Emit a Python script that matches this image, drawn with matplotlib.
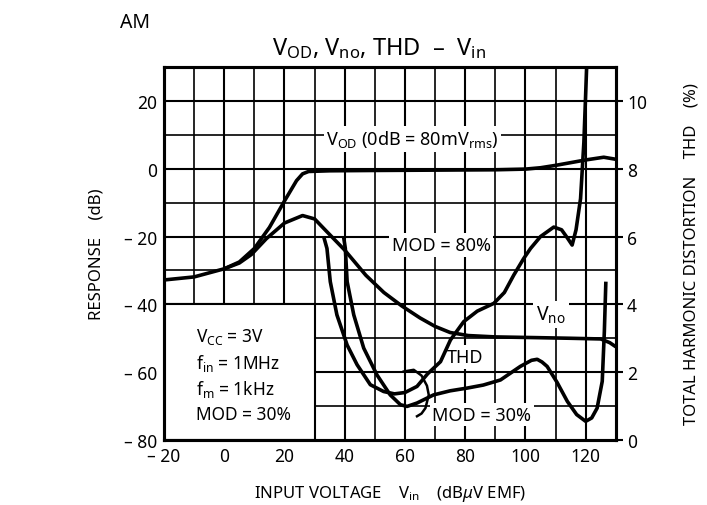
import matplotlib
matplotlib.use("Agg")
import matplotlib.pyplot as plt
from matplotlib.patches import Rectangle

plt.rcParams['font.family'] = ['Noto Sans', 'DejaVu Sans']
plt.rcParams['mathtext.fontset'] = 'custom'
plt.rcParams['mathtext.rm'] = 'Noto Sans'
plt.rcParams['mathtext.it'] = 'Noto Sans:italic'
plt.rcParams['mathtext.default'] = 'regular'

# V_OD response (dB) vs input (dBuV EMF)
vod_x = [-20, -10, 0, 5, 10, 15, 20, 24, 26, 28, 35, 50, 70, 90, 100, 105, 110, 115, 120, 126, 130]
vod_y = [-32.8, -31.9, -29.5, -27.5, -23.5, -17.3, -9.5, -3.5, -1.5, -0.8, -0.6, -0.5, -0.4, -0.3, -0.1, 0.3, 1.0, 1.8, 2.6, 3.4, 2.8]

# V_no (dB)
vno_x = [0, 5, 9, 14, 20, 26, 30, 34, 40, 47, 53, 59, 65, 70, 75, 81, 90, 103, 115, 125, 128, 130]
vno_y = [-29.5, -27.8, -25.3, -20.6, -16.0, -13.8, -14.8, -18.5, -24.0, -31.4, -36.5, -40.5, -44.0, -46.5, -48.3, -49.2, -49.6, -49.8, -50.0, -50.2, -51.3, -52.5]

# THD at MOD = 80% (%)
thd80_x = [33, 34.1, 35.2, 37.4, 40.8, 44.1, 48.5, 52.9, 56.5, 60, 64, 67.5, 71.8, 75.1, 79.5, 84, 89.5, 93, 96.1, 99.4, 101.7, 105, 109.4, 112, 114, 115.5, 116.8, 118.3, 119.4, 120.3, 120.6]
thd80_y = [6.0, 5.65, 4.67, 3.69, 2.8, 2.22, 1.63, 1.43, 1.36, 1.4, 1.58, 1.95, 2.31, 2.95, 3.49, 3.8, 4.03, 4.35, 4.86, 5.35, 5.65, 6.0, 6.28, 6.2, 5.95, 5.75, 6.2, 7.12, 8.78, 10.94, 11.2]

# THD at MOD = 30% (%)
thd30_x = [39.6, 40.2, 40.8, 43, 46.3, 50.7, 55.1, 58.5, 60.7, 64, 69.5, 75, 80.6, 86, 91.7, 98.3, 102, 103.9, 105.5, 107.2, 110.5, 113.9, 117, 120, 122, 123.8, 125.5, 126.2, 126.7]
thd30_y = [6.0, 5.65, 4.67, 3.69, 2.71, 1.92, 1.33, 1.04, 0.99, 1.09, 1.33, 1.45, 1.53, 1.62, 1.77, 2.17, 2.35, 2.38, 2.3, 2.17, 1.7, 1.14, 0.75, 0.55, 0.65, 0.94, 1.73, 3.2, 4.67]

# bracket pointing the two curves to the MOD = 30% label
arc_x = [59.6, 62.9, 65.5, 67.3, 67.9, 66.8, 65.5, 64.0]
arc_y = [2.02, 2.07, 1.9, 1.6, 1.33, 0.94, 0.78, 0.70]

x_ticks = [-20, 0, 20, 40, 60, 80, 100, 120]
x_labels = ['– 20', '0', '20', '40', '60', '80', '100', '120']
db_ticks = [-80, -60, -40, -20, 0, 20]
db_labels = ['– 80', '– 60', '– 40', '– 20', '0', '20']
thd_ticks = [0, 2, 4, 6, 8, 10]

fig = plt.figure(figsize=(7.07, 5.06), dpi=100)
ax = fig.add_axes([0.232, 0.1285, 0.639, 0.737])
ax.set_xlim(-20, 130)
ax.set_ylim(-80, 30)

# grid
for gx in range(-10, 130, 10):
    ax.axvline(gx, color='black', lw=1.2 if gx % 20 else 1.5, zorder=1)
for gy in range(-70, 30, 10):
    ax.axhline(gy, color='black', lw=1.2 if gy % 20 else 1.5, zorder=1)

ax.set_xticks(x_ticks)
ax.set_xticklabels(x_labels)
ax.set_yticks(db_ticks)
ax.set_yticklabels(db_labels)
ax.tick_params(axis='both', length=0, pad=5, labelsize=12.5)
for s in ax.spines.values():
    s.set_linewidth(2.2)

ax.plot(vod_x, vod_y, color='black', lw=2.6, zorder=5, solid_capstyle='butt')
ax.plot(vno_x, vno_y, color='black', lw=2.6, zorder=5, solid_capstyle='butt')

# condition box
ax.add_patch(Rectangle((-20, -80), 50, 40, facecolor='white', edgecolor='black', lw=1.5, zorder=2))
cond = [r'$V_{CC}$ = 3V', r'$f_{in}$ = 1MHz', r'$f_{m}$ = 1kHz', 'MOD = 30%']
for i, t in enumerate(cond):
    ax.text(-9.5, -49.3 - i * 7.7, t, fontsize=12.5, va='center', ha='left', zorder=3)

box = dict(facecolor='white', edgecolor='none', pad=2)
ax.text(62.5, 8.8, r'$V_{OD}$ (0dB = 80m$V_{rms}$)', fontsize=13, ha='center', va='center', bbox=box, zorder=3)
ax.text(72, -22.5, 'MOD = 80%', fontsize=13, ha='center', va='center', bbox=box, zorder=3)
ax.text(108.5, -43, r'$V_{no}$', fontsize=14, ha='center', va='center', bbox=box, zorder=3)
ax.text(80, -55.5, 'THD', fontsize=13, ha='center', va='center', bbox=box, zorder=3)
ax.text(85.5, -72.5, 'MOD = 30%', fontsize=13, ha='center', va='center', bbox=box, zorder=3)

ax.set_ylabel('RESPONSE    (dB)', fontsize=12, labelpad=14)
ax.set_xlabel(r'INPUT VOLTAGE    $V_{in}$    (dB$\mathit{\mu}$V EMF)', fontsize=12, labelpad=13)
ax.set_title(r'$V_{OD}$, $V_{no}$, THD  –  $V_{in}$', fontsize=17, pad=9, x=0.475)
fig.text(0.17, 0.955, 'AM', fontsize=14, va='center')

ax2 = ax.twinx()
ax2.set_ylim(0, 11)
ax2.set_yticks(thd_ticks)
ax2.tick_params(axis='y', length=5, width=1.5, pad=3, labelsize=12.5)
for s in ax2.spines.values():
    s.set_linewidth(2.2)
ax2.plot(thd80_x, thd80_y, color='black', lw=2.6, solid_capstyle='butt')
ax2.plot(thd30_x, thd30_y, color='black', lw=2.6, solid_capstyle='butt')
ax2.plot(arc_x, arc_y, color='black', lw=1.8)

ax2.set_ylabel('TOTAL HARMONIC DISTORTION    THD    (%)', fontsize=12, labelpad=26)

fig.savefig('out.png', dpi=100)
